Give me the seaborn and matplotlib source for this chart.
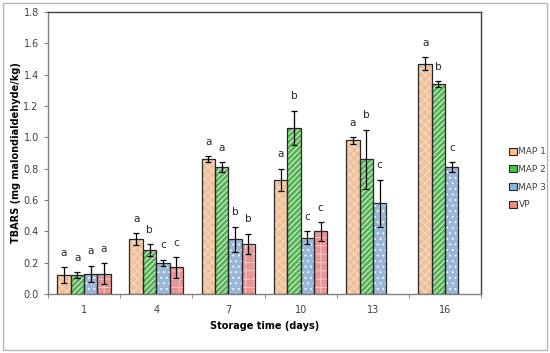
import pandas as pd
import numpy as np
import matplotlib
matplotlib.use('Agg')
import matplotlib.pyplot as plt
import seaborn as sns
from matplotlib.patches import Rectangle, Patch

# ---- data ----
days = ['1', '4', '7', '10', '13', '16']
treatments = ['MAP 1', 'MAP 2', 'MAP 3', 'VP']

map1 = [0.12, 0.35, 0.86, 0.73, 0.98, 1.47]
map2 = [0.12, 0.28, 0.81, 1.06, 0.86, 1.34]
map3 = [0.13, 0.20, 0.35, 0.36, 0.58, 0.81]
vp = [0.13, 0.17, 0.32, 0.40]  # not measured on day 13 and 16

map1_err = [0.05, 0.04, 0.02, 0.07, 0.02, 0.04]
map2_err = [0.02, 0.04, 0.03, 0.11, 0.19, 0.02]
map3_err = [0.05, 0.02, 0.08, 0.04, 0.15, 0.03]
vp_err = [0.065, 0.065, 0.065, 0.06]

map1_lab = ['a', 'a', 'a', 'a', 'a', 'a']
map2_lab = ['a', 'b', 'a', 'b', 'b', 'b']
map3_lab = ['a', 'c', 'b', 'c', 'c', 'c']
vp_lab = ['a', 'c', 'b', 'c']

colors = ['#F9BF8E', '#45C545', '#8FB6E4', '#F28888']
hatch_colors = ['#FDDDC2', 'white', 'white', '#FBCFCF']
hatches = ['xxxx', '//////', '...', '++']

# ---- long table ----
rows = []
for t, vals, errs, labs in zip(treatments, [map1, map2, map3, vp],
                               [map1_err, map2_err, map3_err, vp_err],
                               [map1_lab, map2_lab, map3_lab, vp_lab]):
    for d, v, e, l in zip(days, vals, errs, labs):
        rows.append({'day': d, 'treatment': t, 'tbars': v, 'err': e, 'lab': l})
df = pd.DataFrame(rows)

plt.rcParams['hatch.linewidth'] = 0.6
fig = plt.figure(figsize=(5.5, 3.53), dpi=100)
ax = fig.add_axes([0.087, 0.167, 0.788, 0.799])

sns.barplot(data=df, x='day', y='tbars', hue='treatment', order=days,
            hue_order=treatments, palette=colors, width=0.74, errorbar=None,
            legend=False, ax=ax, zorder=2)

bar_groups = list(ax.containers)
for i, cont in enumerate(bar_groups):
    t = treatments[i]
    sub = df[df.treatment == t].set_index('day')
    for bar in cont:
        x = bar.get_x() + bar.get_width() / 2
        h = bar.get_height()
        if np.isnan(h) or h == 0:
            continue
        d = days[int(round(x))]
        bar.set_hatch(hatches[i])
        bar.set_edgecolor(hatch_colors[i])
        bar.set_linewidth(0)
        ax.bar(bar.get_x(), h, width=bar.get_width(), align='edge',
               fill=False, edgecolor='#262626', linewidth=0.9, zorder=3)
        e = sub.loc[d, 'err']
        ax.errorbar(x, h, yerr=e, fmt='none', ecolor='black', elinewidth=0.9,
                    capsize=2.3, capthick=0.9, zorder=4)
        ax.text(x, h + e + 0.06, sub.loc[d, 'lab'], ha='center', va='bottom',
                fontsize=7.5, color='#262626', zorder=5)

ax.set_ylim(0, 1.8)
ax.set_yticks(np.arange(0, 1.81, 0.2))
ax.set_yticklabels([f'{v:.1f}' for v in np.arange(0, 1.81, 0.2)])
ax.set_xlim(-0.5, len(days) - 0.5)
ax.set_xticks(np.arange(-0.5, len(days), 1.0), minor=True)
ax.tick_params(axis='x', which='major', length=0, pad=8, labelsize=7, colors='#404040')
ax.tick_params(axis='x', which='minor', length=3, color='#808080')
ax.tick_params(axis='y', length=3, labelsize=7, colors='#404040', color='#808080')

ax.set_xlabel('Storage time (days)', fontsize=7, fontweight='bold', labelpad=4)
ax.set_ylabel('TBARS (mg malondialdehyde/kg)', fontsize=7, fontweight='bold', labelpad=2)

ax.spines['left'].set_color('#808080')
ax.spines['bottom'].set_color('#808080')
ax.spines['top'].set_color('#404040')
ax.spines['right'].set_color('#404040')
for s in ax.spines.values():
    s.set_linewidth(1.0)

handles = [Patch(facecolor=c, edgecolor='#262626', linewidth=0.8) for c in colors]
fig.legend(handles, treatments, loc='upper left', bbox_to_anchor=(0.918, 0.595),
           frameon=False, fontsize=6.5, handlelength=0.8, handleheight=0.8,
           handletextpad=0.2, labelspacing=0.95, borderpad=0, labelcolor='#404040')

fig.patches.append(Rectangle((0.006, 0.008), 0.988, 0.984, transform=fig.transFigure,
                             fill=False, edgecolor='#b5b5b5', linewidth=1.0))

fig.savefig('out.png', dpi=100)
